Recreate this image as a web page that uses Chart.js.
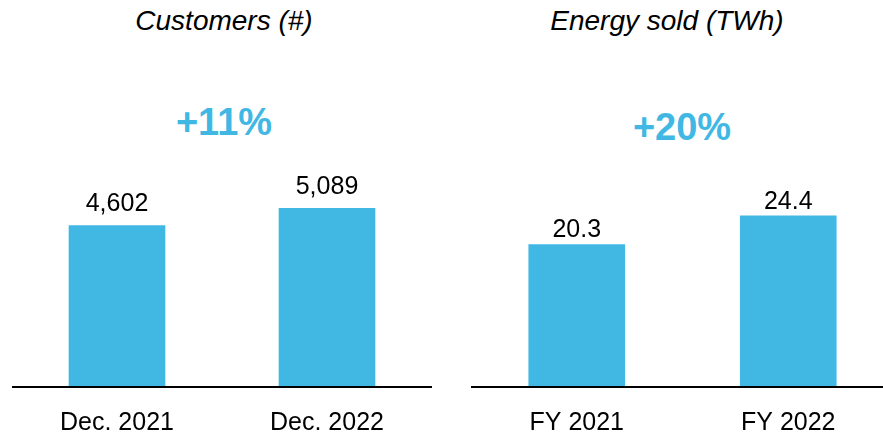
<!DOCTYPE html>
<html>
<head>
<meta charset="utf-8">
<script src="https://cdn.jsdelivr.net/npm/chart.js@4"></script>
<style>
  html, body { margin: 0; padding: 0; background: #fff; overflow: hidden; width: 883px; height: 433px; }
  body { position: relative; font-family: "Liberation Sans", Arial, sans-serif; }
  .title { position: absolute; font-size: 28px; line-height: 28px; font-style: italic; color: #000; white-space: nowrap; transform: translateX(-50%); z-index: 2; }
  .growth { position: absolute; font-size: 38px; line-height: 38px; font-weight: bold; color: #41b8e4; white-space: nowrap; transform: translateX(-50%); z-index: 2; }
  canvas { position: absolute; top: 150px; }
</style>
</head>
<body>
<div class="title" style="left:224px; top:7px;">Customers (#)</div>
<div class="title" style="left:667px; top:7px;">Energy sold (TWh)</div>
<div class="growth" style="left:224px; top:103px;">+11%</div>
<div class="growth" style="left:682px; top:108px;">+20%</div>
<canvas id="customers" width="420" height="283" style="left:12px; width:420px; height:283px;"></canvas>
<canvas id="energy" width="423" height="283" style="left:471px; width:423px; height:283px;"></canvas>
<script>
// Data
const customerLabels = ['Dec. 2021', 'Dec. 2022'];
const customerValues = [4602, 5089];
const energyLabels = ['FY 2021', 'FY 2022'];
const energyValues = [20.3, 24.4];

const barColor = '#41b8e4';
const font = '"Liberation Sans", Arial, sans-serif';

// value labels above bars
const valueLabels = {
    id: 'valueLabels',
    afterDatasetsDraw(chart, args, opts) {
        const ctx = chart.ctx;
        const meta = chart.getDatasetMeta(0);
        ctx.save();
        ctx.font = '25px ' + font;
        ctx.fillStyle = '#000';
        ctx.textAlign = 'center';
        ctx.textBaseline = 'alphabetic';
        meta.data.forEach((bar, i) => {
            const v = chart.data.datasets[0].data[i];
            ctx.fillText(opts.format(v), bar.x, bar.y - opts.gap);
        });
        ctx.restore();
    }
};

function makeChart(id, labels, values, yMax, format, gap) {
    return new Chart(document.getElementById(id), {
        type: 'bar',
        data: {
            labels: labels,
            datasets: [{ data: values, backgroundColor: barColor, barThickness: 96 }]
        },
        options: {
            responsive: false,
            animation: false,
            layout: { padding: 0 },
            plugins: {
                legend: { display: false },
                tooltip: { enabled: false },
                valueLabels: { format: format, gap: gap }
            },
            scales: {
                x: {
                    grid: { display: false, drawTicks: false },
                    border: { display: true, color: '#000', width: 2, z: 1 },
                    ticks: { color: '#000', font: { family: font, size: 25 }, padding: 21 },
                    afterFit(scale) { scale.height = 46; }
                },
                y: { display: false, min: 0, max: yMax }
            }
        },
        plugins: [valueLabels]
    });
}

makeChart('customers', customerLabels, customerValues, 6752, v => v.toLocaleString('en-US'), 14);
makeChart('energy', energyLabels, energyValues, 33.76, v => v.toFixed(1), 7);
</script>
</body>
</html>
